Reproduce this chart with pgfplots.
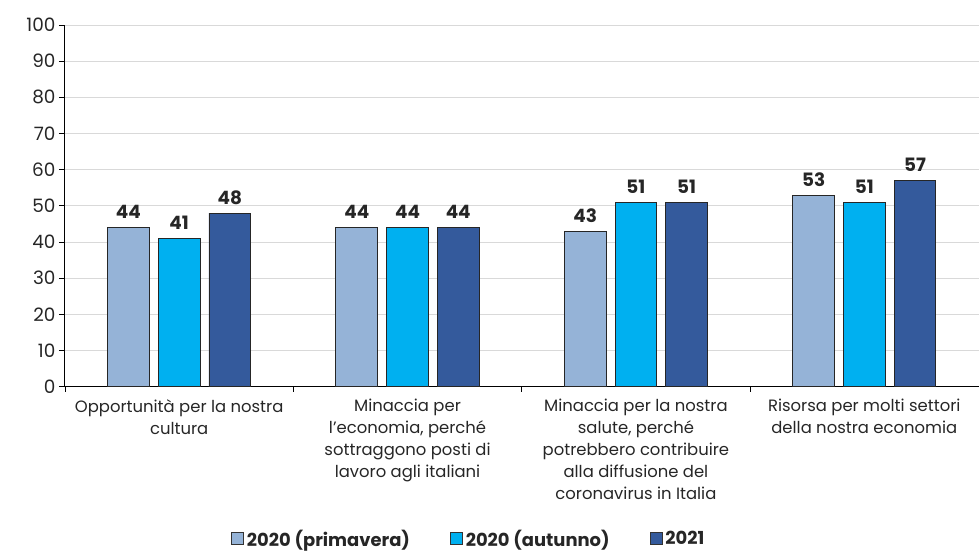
\documentclass[border=0pt]{standalone}
\usepackage{pgfplots}
\pgfplotsset{compat=1.18}
\usepackage{fontspec}
\setmainfont{Poppins}
\definecolor{cPrim}{HTML}{95B3D7}
\definecolor{cAut}{HTML}{00B0F0}
\definecolor{cY21}{HTML}{345A9C}
\definecolor{gridc}{HTML}{D9D9D9}
\begin{document}
\begin{tikzpicture}[x=1bp,y=1bp]
\path (-65,-168) rectangle (914,387);
\begin{axis}[
  at={(0,0)}, anchor=origin,
  scale only axis, width=914bp, height=362bp,
  xmin=0.5, xmax=4.5, ymin=0, ymax=100,
  ybar,
  ytick={0,10,...,100},
  xtick={1,2,3,4},
  xticklabels={
    {Opportunità per la nostra\\cultura},
    {Minaccia per\\l'economia, perché\\sottraggono posti di\\lavoro agli italiani},
    {Minaccia per la nostra\\salute, perché\\potrebbero contribuire\\alla diffusione del\\coronavirus in Italia},
    {Risorsa per molti settori\\della nostra economia}},
  x tick label style={align=center, font=\fontsize{16.5}{22}\selectfont, text=black!85, yshift=-3bp},
  y tick label style={font=\fontsize{18.5}{20}\selectfont, text=black!85},
  major x tick style={draw=none},
  minor xtick={0.5,1.5,2.5,3.5},
  minor x tick style={black, line width=0.8pt},
  minor tick length=5bp,
  major tick length=6bp,
  xtick pos=bottom, ytick pos=left,
  tick align=outside,
  y tick style={black, line width=0.8pt},
  axis x line*=bottom, axis y line*=left,
  axis line style={black, line width=1pt},
  ymajorgrids, grid style={gridc, line width=0.8pt},
  /pgf/number format/assume math mode=true,
  nodes near coords,
  nodes near coords style={font=\bfseries\fontsize{18.5}{20}\selectfont, text=black!85, yshift=5bp},
  bar width=0.183,
  legend style={at={(0.442,-0.42)}, anchor=center, draw=none, legend columns=3,
    font=\bfseries\fontsize{18}{20}\selectfont, text=black!85,
    /tikz/every even column/.append style={column sep=38bp},
    /tikz/every odd column/.append style={column sep=1bp}},
  legend image code/.code={\draw[#1, draw=black!80, line width=0.8pt] (0bp,-6bp) rectangle (12bp,6bp);},
  legend cell align=left,
]
\addplot[bar shift=-0.222, fill=cPrim, draw=black!85, line width=0.9pt] coordinates {(1,44) (2,44) (3,43) (4,53)};
\addplot[bar shift=0, fill=cAut, draw=black!85, line width=0.9pt] coordinates {(1,41) (2,44) (3,51) (4,51)};
\addplot[bar shift=0.222, fill=cY21, draw=black!85, line width=0.9pt] coordinates {(1,48) (2,44) (3,51) (4,57)};
\legend{2020 (primavera),2020 (autunno),2021}
\end{axis}
\end{tikzpicture}
\end{document}
